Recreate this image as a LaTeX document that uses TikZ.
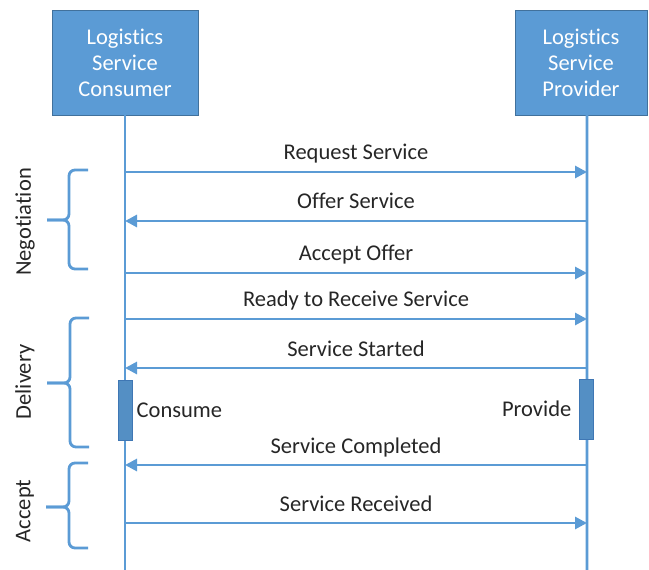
\documentclass[tikz,border=0pt]{standalone}
\usepackage{fontspec}
\setmainfont[Ligatures=NoCommon]{Carlito}
\usetikzlibrary{arrows.meta,positioning}
\definecolor{lineblue}{HTML}{5B9BD5}
\definecolor{boxedge}{HTML}{41719C}
\definecolor{bardark}{HTML}{3F77B4}
\definecolor{labeltext}{HTML}{262626}

\begin{document}
\begin{tikzpicture}[
  x=0.025cm,
  y=-0.025cm,
  font=\fontsize{16}{18.5}\selectfont,
  actor/.style={
    draw=boxedge,
    fill=lineblue,
    line width=0.6pt,
    text=white,
    align=center,
    font=\fontsize{16}{18.5}\selectfont,
    minimum height=2.625cm,
    inner sep=0pt,
    outer sep=0pt
  },
  lifeline/.style={
    draw=lineblue,
    line width=2pt
  },
  msg/.style={
    -{Triangle[length=0.3cm,width=0.3cm]},
    draw=lineblue,
    line width=2pt
  },
  msg label/.style={
    anchor=base,
    yshift=0.3cm,
    text=labeltext,
    inner sep=0pt
  },
  activation/.style={
    draw=bardark,
    fill=lineblue!92!black,
    line width=0.6pt,
    minimum width=0.35cm,
    minimum height=1.5cm,
    inner sep=0pt
  },
  phase brace/.style={
    draw=lineblue,
    line width=2pt,
    rounded corners=0.15cm
  },
  phase label/.style={
    rotate=90,
    text=labeltext,
    inner sep=0pt
  }
]
\useasboundingbox (0,0) rectangle (649,570);

% actors
\node[actor,minimum width=3.65cm] (consumer) at (125,62.5)
  {Logistics\\Service\\Consumer};
\node[actor,minimum width=3.3cm] (provider) at (581,62.5)
  {Logistics\\Service\\Provider};

% lifelines
\coordinate (consumer-top) at (consumer.south);
\coordinate (provider-top) at ([xshift=0.15cm]provider.south);
\coordinate (consumer-end) at (125,570);
\coordinate (provider-end) at (587,570);
\draw[lifeline] (consumer-top) -- (consumer-end);
\draw[lifeline] (provider-top) -- (provider-end);

% activation bars
\node[activation] (consume-bar) at (125,410) {};
\node[activation] (provide-bar) at (586,409) {};
\node[anchor=west,text=labeltext,inner sep=0pt] (consume)
  at ([xshift=0.1cm]consume-bar.east) {Consume};
\node[anchor=east,text=labeltext,inner sep=0pt] (provide)
  at ([xshift=-0.175cm]provide-bar.west) {Provide};

% message points
\coordinate (request-c) at (125,172);
\coordinate (request-p) at (587,172);
\coordinate (offer-c) at (125,221);
\coordinate (offer-p) at (587,221);
\coordinate (accept-c) at (125,273);
\coordinate (accept-p) at (587,273);
\coordinate (ready-c) at (125,319);
\coordinate (ready-p) at (587,319);
\coordinate (started-c) at (125,368);
\coordinate (started-p) at (587,368);
\coordinate (completed-c) at (125,465);
\coordinate (completed-p) at (587,465);
\coordinate (received-c) at (125,523);
\coordinate (received-p) at (587,523);

% messages
\draw[msg] (request-c) -- node[msg label] (request) {Request Service} (request-p);
\draw[msg] (offer-p) -- node[msg label] (offer) {Offer Service} (offer-c);
\draw[msg] (accept-c) -- node[msg label] (accept) {Accept Offer} (accept-p);
\draw[msg] (ready-c) -- node[msg label] (ready) {Ready to Receive Service} (ready-p);
\draw[msg] (started-p) -- node[msg label] (started) {Service Started} (started-c);
\draw[msg] (completed-p) -- node[msg label] (completed) {Service Completed} (completed-c);
\draw[msg] (received-c) -- node[msg label] (received) {Service Received} (received-p);

% phase braces
\draw[phase brace] (88,170) -| (69,220) -- (47,220);
\draw[phase brace] (47,220) -- (69,220) |- (88,269);
\draw[phase brace] (89,318) -| (70,383) -- (47,383);
\draw[phase brace] (47,383) -- (70,383) |- (89,447);
\draw[phase brace] (88,463) -| (69,507) -- (46,507);
\draw[phase brace] (46,507) -- (69,507) |- (88,548);

\node[phase label] (negotiation) at (25,222) {Negotiation};
\node[phase label] (delivery) at (25,382) {Delivery};
\node[phase label] (acceptance) at (25,511) {Accept};

\end{tikzpicture}
\end{document}
